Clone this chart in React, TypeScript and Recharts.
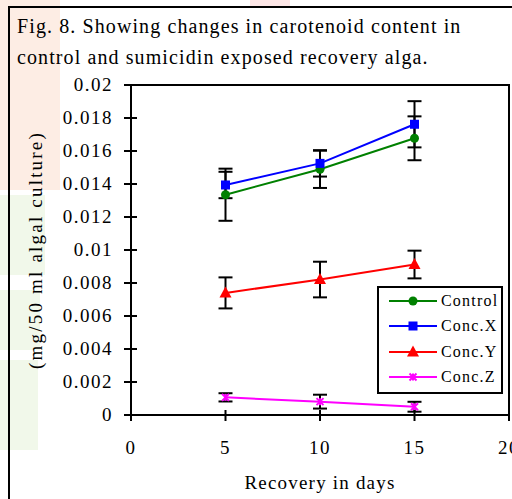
import React from 'react'
import { ErrorBar, Label, Line, LineChart, ReferenceArea, XAxis, YAxis } from 'recharts'

// recovery days
const days = [5, 10, 15]

// carotenoid (mg/50 ml algal culture) and error values
const control = [0.01335, 0.01489, 0.01677]
const controlErr = [0.00158, 0.00113, 0.00133]
const concX = [0.01394, 0.01525, 0.01762]
const concXErr = [0.0008, 0.0008, 0.0014]
const concY = [0.0074, 0.00821, 0.00912]
const concYErr = [0.00094, 0.00108, 0.00084]
const concZ = [0.00107, 0.00081, 0.0005]
const concZErr = [0.00025, 0.00042, 0.0003]

const xTicks = [0, 5, 10, 15, 20]
const yTicks = [0, 0.002, 0.004, 0.006, 0.008, 0.01, 0.012, 0.014, 0.016, 0.018, 0.02]

const data = days.map((d, i) => ({
    day: d,
    control: control[i], controlErr: controlErr[i],
    x: concX[i], xErr: concXErr[i],
    y: concY[i], yErr: concYErr[i],
    z: concZ[i], zErr: concZErr[i],
}))

const FONT = "'Liberation Serif', 'Times New Roman', serif"

const series = [
    { key: 'control', err: 'controlErr', name: 'Control', color: '#008000', shape: 'circle' },
    { key: 'x', err: 'xErr', name: 'Conc.X', color: '#0000FF', shape: 'square' },
    { key: 'y', err: 'yErr', name: 'Conc.Y', color: '#FF0000', shape: 'triangle' },
    { key: 'z', err: 'zErr', name: 'Conc.Z', color: '#FF00FF', shape: 'star' },
]

// faint watermark patches behind the figure
const patches = [
    { left: 0, top: 0, width: 60, height: 190, color: '#fdede4' },
    { left: 0, top: 195, width: 45, height: 80, color: '#f1f8ea' },
    { left: 0, top: 290, width: 40, height: 60, color: '#f1f8ea' },
    { left: 0, top: 360, width: 38, height: 90, color: '#f1f8ea' },
    { left: 250, top: 0, width: 40, height: 7, color: '#fde6e6' },
]

const Marker = ({ cx, cy, shape, color }: any) => {
    if (shape === 'circle') return <circle cx={cx} cy={cy} r={4.5} fill={color} />
    if (shape === 'square') return <rect x={cx - 4.5} y={cy - 4.5} width={9} height={9} fill={color} />
    if (shape === 'triangle')
        return <polygon points={`${cx},${cy - 6.5} ${cx + 6},${cy + 4.5} ${cx - 6},${cy + 4.5}`} fill={color} />
    return (
        <g stroke={color} strokeWidth={2}>
            <line x1={cx - 3.5} y1={cy - 3.5} x2={cx + 3.5} y2={cy + 3.5} />
            <line x1={cx - 3.5} y1={cy + 3.5} x2={cx + 3.5} y2={cy - 3.5} />
            <line x1={cx} y1={cy - 3.5} x2={cx} y2={cy + 3.5} />
        </g>
    )
}

const YTick = ({ x, y, payload }: any) => (
    <g>
        <line x1={x + 11} y1={y} x2={x + 24} y2={y} stroke="#000" strokeWidth={2} />
        <text x={x} y={y} dy={6} textAnchor="end" fill="#000"
            style={{ fontFamily: FONT, fontSize: 19, letterSpacing: 1.5 }}>
            {String(Number(payload.value.toFixed(3)))}
        </text>
    </g>
)

const XTick = ({ x, y, payload }: any) => (
    <g>
        <line x1={x} y1={y - 29} x2={x} y2={y - 18} stroke="#000" strokeWidth={2} />
        <text x={x} y={y} dy={15} textAnchor="middle" fill="#000"
            style={{ fontFamily: FONT, fontSize: 19, letterSpacing: 1.5 }}>
            {payload.value}
        </text>
    </g>
)

const LegendBox = () => (
    <div style={{
        position: 'absolute', left: 377, top: 286, border: '2px solid #000', background: '#fff',
        width: 122, paddingBottom: 2, fontFamily: FONT, color: '#000',
    }}>
        {series.map(s => (
            <div key={s.key} style={{ display: 'flex', alignItems: 'center', height: 25.5 }}>
                <svg width={60} height={16} style={{ flex: 'none' }}>
                    <line x1={10} y1={8} x2={58} y2={8} stroke={s.color} strokeWidth={2} />
                    <Marker cx={34} cy={8} shape={s.shape} color={s.color} />
                </svg>
                <span style={{ fontSize: 16, letterSpacing: 1.2, marginLeft: 2 }}>{s.name}</span>
            </div>
        ))}
    </div>
)

const App = () => {
    return (
        <div style={{ position: 'absolute', left: 0, top: 0, width: 512, height: 499, overflow: 'hidden', background: '#fff' }}>
            {patches.map((p, i) => (
                <div key={i} style={{ position: 'absolute', left: p.left, top: p.top, width: p.width, height: p.height, background: p.color }} />
            ))}
            <div style={{
                position: 'absolute', left: 8, top: 6, width: 530, height: 530,
                border: '2px solid #000', boxSizing: 'border-box',
            }} />
            <div style={{
                position: 'absolute', left: 17, top: 11, fontFamily: FONT, fontSize: 20,
                lineHeight: '31px', letterSpacing: 1.1, color: '#000',
            }}>
                Fig. 8. Showing changes in carotenoid content in<br />
                control and sumicidin exposed recovery alga.
            </div>
            <div style={{ position: 'absolute', left: 0, top: 0 }}>
                <LineChart width={540} height={499} data={data}
                    margin={{ top: 85, right: 31, left: 0, bottom: 0 }}>
                    <ReferenceArea x1={0} x2={20} y1={0} y2={0.02} fill="#fff" fillOpacity={1} stroke="#000" strokeWidth={2} />
                    <XAxis dataKey="day" type="number" domain={[0, 20]} ticks={xTicks} height={84}
                        axisLine={{ stroke: '#000', strokeWidth: 2 }} tickLine={false} tickSize={0} tickMargin={24}
                        tick={<XTick />} interval={0}>
                        <Label value="Recovery in days" position="insideBottom" offset={10}
                            style={{ fontFamily: FONT, fontSize: 19, fill: '#000', letterSpacing: 1.2 }} />
                    </XAxis>
                    <YAxis type="number" domain={[0, 0.02]} ticks={yTicks} width={131}
                        axisLine={{ stroke: '#000', strokeWidth: 2 }} tickLine={false} tickSize={0} tickMargin={18}
                        tick={<YTick />} interval={0}>
                        <Label value="(mg/50 ml algal culture)" angle={-90} position="center" dx={-30}
                            style={{ fontFamily: FONT, fontSize: 19, fill: '#000', letterSpacing: 2.2 }} />
                    </YAxis>
                    {series.map(s => (
                        <Line key={s.key} dataKey={s.key} name={s.name} stroke={s.color} strokeWidth={2}
                            isAnimationActive={false}
                            dot={(p: any) => <Marker key={`${s.key}-${p.index}`} cx={p.cx} cy={p.cy} shape={s.shape} color={s.color} />}>
                            <ErrorBar dataKey={s.err} width={7} stroke="#000" strokeWidth={2} />
                        </Line>
                    ))}
                </LineChart>
            </div>
            <LegendBox />
        </div>
    )
}

export default App
